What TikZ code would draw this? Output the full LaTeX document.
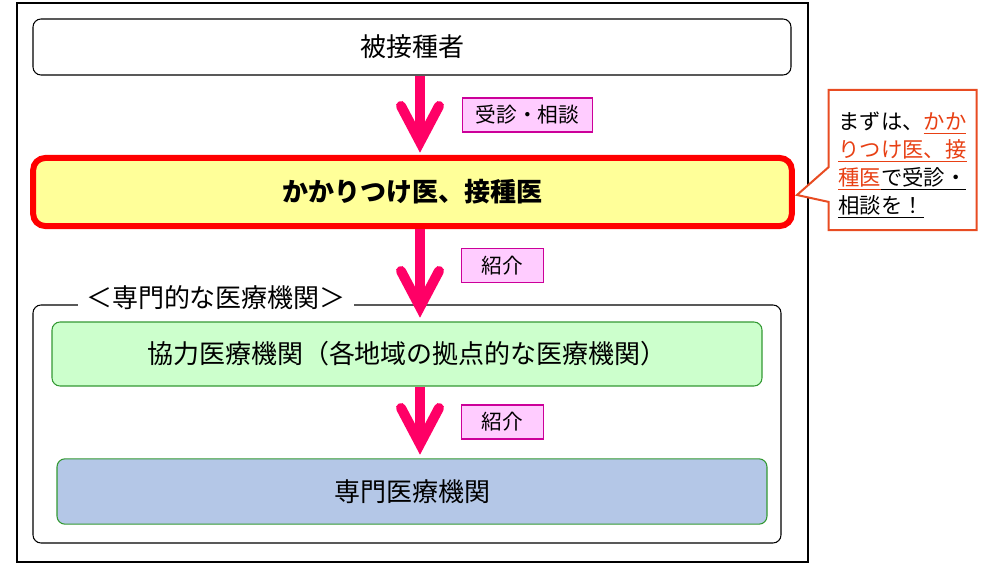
\documentclass[tikz,border=0pt]{standalone}
\usepackage{fontspec}
\setmainfont{Noto Sans CJK JP}
\usetikzlibrary{shapes.callouts,calc}
\definecolor{arrowc}{RGB}{255,0,102}
\definecolor{lblfill}{RGB}{255,204,255}
\definecolor{lblborder}{RGB}{204,0,153}
\definecolor{yfill}{RGB}{255,255,153}
\definecolor{gfill}{RGB}{204,255,204}
\definecolor{gborder}{RGB}{51,153,51}
\definecolor{bfill}{RGB}{180,199,231}
\definecolor{callc}{RGB}{232,76,34}
\definecolor{redtext}{RGB}{232,64,20}
\newcommand\myul[1]{\setbox0\hbox{#1}\rlap{\vrule width\wd0 height -2.2pt depth 3.2pt}\box0}
\begin{document}
\begin{tikzpicture}[x=0.75pt,y=-0.75pt,
  box/.style={draw, rounded corners=6pt, inner sep=0pt, line width=0.8pt,
    font=\fontsize{19.5}{22}\selectfont},
  lbl/.style={draw=lblborder, fill=lblfill, line width=0.9pt, inner sep=0pt,
    minimum height=25.5pt, font=\fontsize{15.5}{18}\selectfont},
  flow/.style={draw=arrowc, line width=7.5pt},
  head/.style={draw=arrowc, line width=7.5pt, line cap=round, line join=miter}]
\useasboundingbox (0,0) rectangle (983,567);
% outer frame
\draw[line width=0.8pt] (17,3) rectangle (808,562);
% group frame
\draw[line width=0.8pt, rounded corners=6pt] (33,305) rectangle (781,543);
\node[fill=white, inner xsep=6pt, inner ysep=0pt, font=\fontsize{19.5}{22}\selectfont] (G) at (216,298) {＜専門的な医療機関＞};
% boxes
\node[box, minimum width=568.5pt, minimum height=42pt] (A) at (412,47) {被接種者};
\node[box, draw=red, line width=4.5pt, fill=yfill, rounded corners=9pt,
  minimum width=569pt, minimum height=51pt, font=\fontsize{19.5}{22}\selectfont\bfseries] (B) at (412.5,192) {かかりつけ医、接種医};
\node[box, draw=gborder, fill=gfill, minimum width=532.5pt, minimum height=48pt] (C) at (407,354) {協力医療機関（各地域の拠点的な医療機関）};
\node[box, draw=gborder, fill=bfill, minimum width=532.5pt, minimum height=49pt] (D) at (412,491.5) {専門医療機関};
% labels
\node[lbl, minimum width=98pt] (L1) at (527.5,115) {受診・相談};
\node[lbl, minimum width=61pt] (L2) at (502.5,265.5) {紹介};
\node[lbl, minimum width=61pt] (L3) at (502.5,422) {紹介};
% arrows
\coordinate (t1) at (420,142);
\coordinate (t2) at (420,307);
\coordinate (t3) at (420,444);
\draw[flow] (A.south -| t1) -- ($(t1)+(0,-6)$);
\draw[head] ($(t1)+(-19,-36)$) -- (t1) -- ($(t1)+(19,-36)$);
\draw[flow] (B.south -| t2) -- ($(t2)+(0,-6)$);
\draw[head] ($(t2)+(-19,-36)$) -- (t2) -- ($(t2)+(19,-36)$);
\draw[flow] (C.south -| t3) -- ($(t3)+(0,-6)$);
\draw[head] ($(t3)+(-19,-36)$) -- (t3) -- ($(t3)+(19,-36)$);
% callout
\coordinate (ptr) at (797,195);
\node[rectangle callout, draw=callc, line width=1.5pt, fill=white,
  minimum width=111pt, minimum height=105pt, inner sep=0pt,
  callout absolute pointer={(ptr)}, callout pointer width=26pt,
  font=\fontsize{16}{21}\selectfont] (K) at (902.5,160) {%
  \raisebox{-4.5pt}[\height][\depth]{\begin{tabular}{@{}l@{}}
  まずは、\textcolor{redtext}{\myul{かか}}\\[0pt]
  \textcolor{redtext}{\myul{りつけ医、接}}\\[0pt]
  \textcolor{redtext}{\myul{種医}}\myul{で受診・}\\[0pt]
  \myul{相談を！}
  \end{tabular}}};
\end{tikzpicture}
\end{document}
